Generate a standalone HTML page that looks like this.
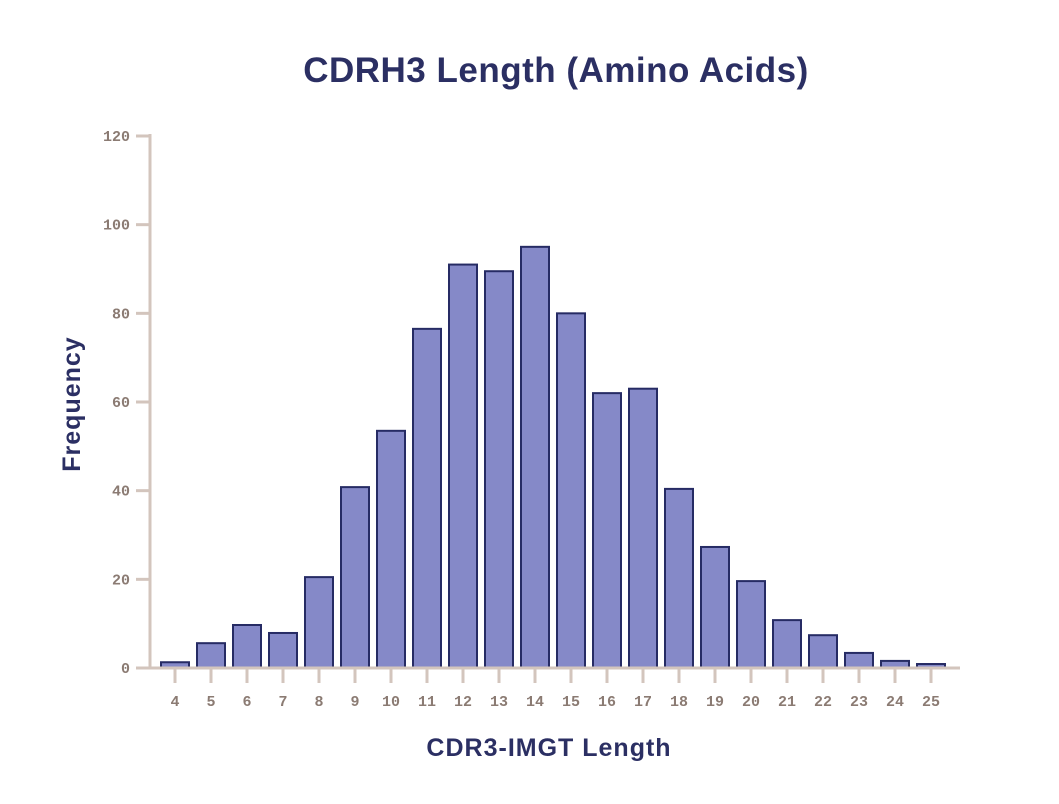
<!DOCTYPE html>
<html><head><meta charset="utf-8"><style>
body{margin:0;background:#fff;}
svg text{font-family:"Liberation Sans",sans-serif;}
</style></head><body>
<svg width="1059" height="799" viewBox="0 0 1059 799" id="c">
<text x="556" y="82" text-anchor="middle" font-size="35" font-weight="bold" letter-spacing="0.5" fill="#2b2f63">CDRH3 Length (Amino Acids)</text>
<text x="549" y="756" text-anchor="middle" font-size="25" font-weight="bold" letter-spacing="1" fill="#2b2f63">CDR3-IMGT Length</text>
<text transform="translate(80,404) rotate(-90)" text-anchor="middle" font-size="25" font-weight="bold" letter-spacing="1" fill="#2b2f63">Frequency</text>
<g id="g"></g>
</svg>
<script>
const categories=[4,5,6,7,8,9,10,11,12,13,14,15,16,17,18,19,20,21,22,23,24,25];
const values=[1.3,5.6,9.7,7.9,20.5,40.8,53.5,76.5,91,89.5,95,80,62,63,40.4,27.3,19.6,10.8,7.4,3.4,1.6,0.9];
const yTicks=[0,20,40,60,80,100,120];
const NS="http://www.w3.org/2000/svg",g=document.getElementById('g');
const y=v=>668-v*(532/120);
const x=i=>175+i*36;
function mk(t,a){const e=document.createElementNS(NS,t);for(const k in a)e.setAttribute(k,a[k]);g.appendChild(e);return e;}
const ax='#d3c5bd',lc='#8b7b73';
yTicks.forEach(t=>{
 const l=mk('line',{x1:136,x2:150,y1:y(t),y2:y(t),stroke:ax,'stroke-width':3});
 
 
 const tx=mk('text',{x:130,y:y(t)+5,'text-anchor':'end','font-size':15,'font-weight':'bold',fill:lc,style:'font-family:"Liberation Mono",monospace'});
 tx.textContent=t;
 
 
});
categories.forEach((c,i)=>{
 const l=mk('line',{x1:x(i),x2:x(i),y1:668,y2:683,stroke:ax,'stroke-width':3});
 
 
 const tx=mk('text',{x:x(i),y:706,'text-anchor':'middle','font-size':15,'font-weight':'bold',fill:lc,style:'font-family:"Liberation Mono",monospace'});
 tx.textContent=c;
 
 
});
categories.forEach((c,i)=>{
 const b=mk('rect',{x:x(i)-14,y:y(values[i]),width:28,height:668-y(values[i]),fill:'#8589c8',stroke:'#262b64','stroke-width':2});
 
 
});
const ya=mk('line',{x1:150,x2:150,y1:134,y2:669,stroke:ax,'stroke-width':3});


const xa=mk('line',{x1:136,x2:960,y1:668,y2:668,stroke:ax,'stroke-width':3});


</script>
</body></html>
